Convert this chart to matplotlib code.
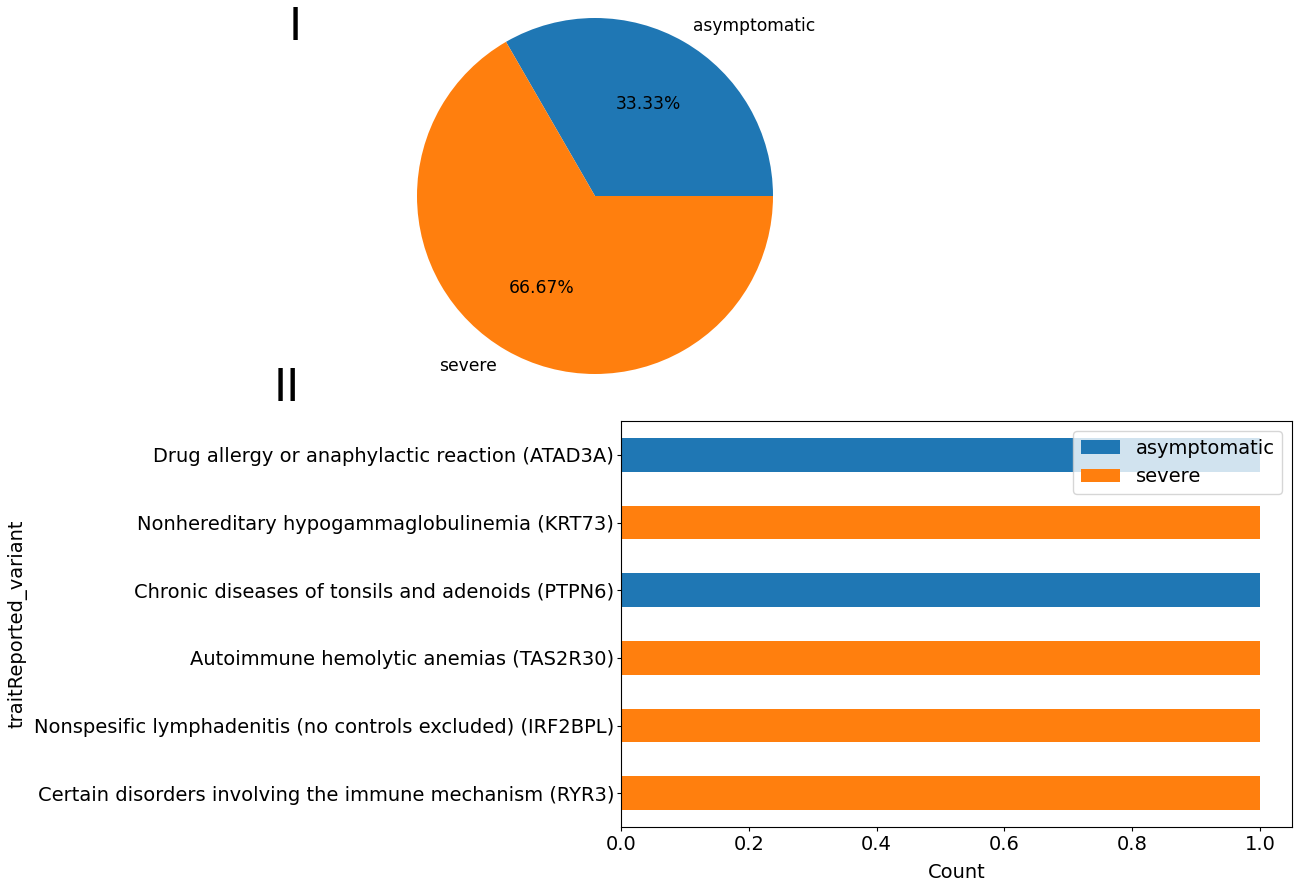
import matplotlib
matplotlib.use("Agg")
import matplotlib.pyplot as plt
import numpy as np

# Severity share across the reported variants
pie_labels = ["asymptomatic", "severe"]
pie_counts = [2, 4]

# Traits (bottom to top) and their severity group
traits = [
    "Certain disorders involving the immune mechanism (RYR3)",
    "Nonspesific lymphadenitis (no controls excluded) (IRF2BPL)",
    "Autoimmune hemolytic anemias (TAS2R30)",
    "Chronic diseases of tonsils and adenoids (PTPN6)",
    "Nonhereditary hypogammaglobulinemia (KRT73)",
    "Drug allergy or anaphylactic reaction (ATAD3A)",
]
asymptomatic_counts = [0, 0, 0, 1, 0, 1]
severe_counts = [1, 1, 1, 0, 1, 0]

BLUE = "#1f77b4"
ORANGE = "#ff7f0e"

W, H = 1297, 883
fig = plt.figure(figsize=(W / 100, H / 100), dpi=100)


def px_axes(left, top, width, height):
    return fig.add_axes([left / W, (H - top - height) / H, width / W, height / H])


# Panel I: pie chart
cx, cy, r = 595, 196, 178
side = 2.5 * r
ax_pie = px_axes(cx - side / 2, cy - side / 2, side, side)
ax_pie.pie(pie_counts, labels=pie_labels, autopct="%.2f%%",
           colors=[BLUE, ORANGE], textprops={"fontsize": 12.3})
ax_pie.set_aspect("equal")

# Panel II: horizontal stacked bar chart
ax_left, ax_top, ax_w, ax_h = 621, 421, 671, 406
ax_bar = px_axes(ax_left, ax_top, ax_w, ax_h)
y = np.arange(len(traits))
ax_bar.barh(y, asymptomatic_counts, height=0.5, color=BLUE, label="asymptomatic")
ax_bar.barh(y, severe_counts, height=0.5, left=asymptomatic_counts,
            color=ORANGE, label="severe")
ax_bar.set_yticks(y)
ax_bar.set_yticklabels(traits)
ax_bar.set_ylim(-0.5, len(traits) - 0.5)
ax_bar.set_xlim(0, 1.05)
ax_bar.set_xticks([0.0, 0.2, 0.4, 0.6, 0.8, 1.0])
ax_bar.tick_params(labelsize=14, length=3, pad=2)
ax_bar.tick_params(axis="x", pad=3)
ax_bar.set_xlabel("Count", fontsize=14, labelpad=6)
ax_bar.set_ylabel("traitReported_variant", fontsize=14)
ax_bar.yaxis.set_label_coords((28 - ax_left) / ax_w, 0.5)
ax_bar.legend(loc="upper right", fontsize=14)

# Panel markers
fig.text(295 / W, 1 - 27 / H, "I", fontsize=32, ha="center", va="center")
fig.text(287 / W, 1 - 388 / H, "II", fontsize=32, ha="center", va="center")

fig.savefig("out.png", dpi=100)
